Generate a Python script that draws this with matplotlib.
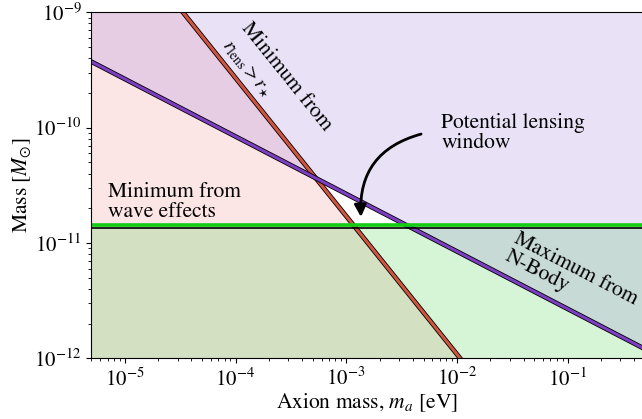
import numpy as np
import matplotlib
matplotlib.use('Agg')
import matplotlib.pyplot as plt
import matplotlib.patheffects as pe

plt.rcParams['font.family'] = 'STIXGeneral'
plt.rcParams['mathtext.fontset'] = 'stix'
plt.rcParams['font.size'] = 15.5
plt.rcParams['xtick.labelsize'] = 15
plt.rcParams['ytick.labelsize'] = 15

# limits of the parameter space
m_lim = [5.0e-6, 0.47]      # axion mass [eV]
M_lim = [1.0e-12, 1.0e-9]   # halo mass [Msun]
m_ticks = [1e-5, 1e-4, 1e-3, 1e-2, 1e-1]
M_ticks = [1e-12, 1e-11, 1e-10, 1e-9]

# maximum halo mass from N-body
nbody_m = [5.0e-6, 0.47]
nbody_M = [3.73e-10, 1.24e-12]

# minimum from r_lens > r_star
lens_m = [3.35e-5, 1.07e-2]
lens_M = [1.0e-9, 1.0e-12]

# minimum from wave effects
wave_M = 1.42e-11

c_pink = 'lightcoral'
c_purple = 'mediumpurple'
c_green = 'limegreen'
c_red_line = '#d0553f'
c_purple_line = '#7d3fc2'
c_green_line = '#11cc11'

fig = plt.figure(figsize=(6.42, 4.19), dpi=100)
ax = fig.add_axes([0.1425, 0.1449, 1.0 - 0.1425, 0.9706 - 0.1449])
ax.set_xscale('log')
ax.set_yscale('log')

# shaded exclusion regions
ax.fill([m_lim[0], m_lim[0], lens_m[0], lens_m[1]],
        [M_lim[0], M_lim[1], lens_M[0], lens_M[1]],
        color=c_pink, alpha=0.2, lw=0)
ax.axhspan(M_lim[0], wave_M, color=c_green, alpha=0.2, lw=0)
ax.fill([nbody_m[0], nbody_m[1], m_lim[1], m_lim[0]],
        [nbody_M[0], nbody_M[1], M_lim[1], M_lim[1]],
        color=c_purple, alpha=0.2, lw=0)

outline = [pe.Stroke(linewidth=3.4, foreground='k'), pe.Normal()]
ax.plot(lens_m, lens_M, color=c_red_line, lw=2.2, path_effects=outline)
ax.plot(nbody_m, nbody_M, color=c_purple_line, lw=2.2, path_effects=outline)
ax.axhline(wave_M, color=c_green_line, lw=2.6,
           path_effects=[pe.Stroke(linewidth=1.2, foreground='k', offset=(0, -1.6)),
                         pe.Normal()])

ax.set_xlim(m_lim)
ax.set_ylim(M_lim)
ax.set_xticks(m_ticks)
ax.set_yticks(M_ticks)
ax.spines['right'].set_visible(False)

ax.set_xlabel(r'Axion mass, $m_a$ [eV]', labelpad=1)
ax.set_ylabel(r'Mass [$M_{\odot}$]', labelpad=1)

# labels
ax.text(2.9e-4, 2.75e-10, 'Minimum from', rotation=-51.2, ha='center',
        va='center', rotation_mode='anchor')
ax.text(1.24e-4, 3.22e-10, r'$r_{\rm lens} > r_{\star}$', rotation=-51.2,
        ha='center', va='center', fontsize=14, rotation_mode='anchor')
ax.text(7.1e-6, 2.26e-11, 'Minimum from\nwave effects', ha='left', va='center',
        linespacing=1.0)
ax.text(7.2e-3, 8.97e-11, 'Potential lensing\nwindow', ha='left', va='center',
        linespacing=1.0)
ax.text(0.108, 5.0e-12, 'Maximum from\nN-Body', rotation=-27.4, ha='center',
        va='center', multialignment='left', rotation_mode='anchor',
        linespacing=1.0)

ax.annotate('', xy=(1.36e-3, 1.68e-11), xytext=(4.75e-3, 8.8e-11),
            arrowprops=dict(arrowstyle='-|>', color='k', lw=2,
                            connectionstyle='arc3,rad=0.4', mutation_scale=18,
                            shrinkA=0, shrinkB=0))

fig.savefig('out.png', dpi=100)
